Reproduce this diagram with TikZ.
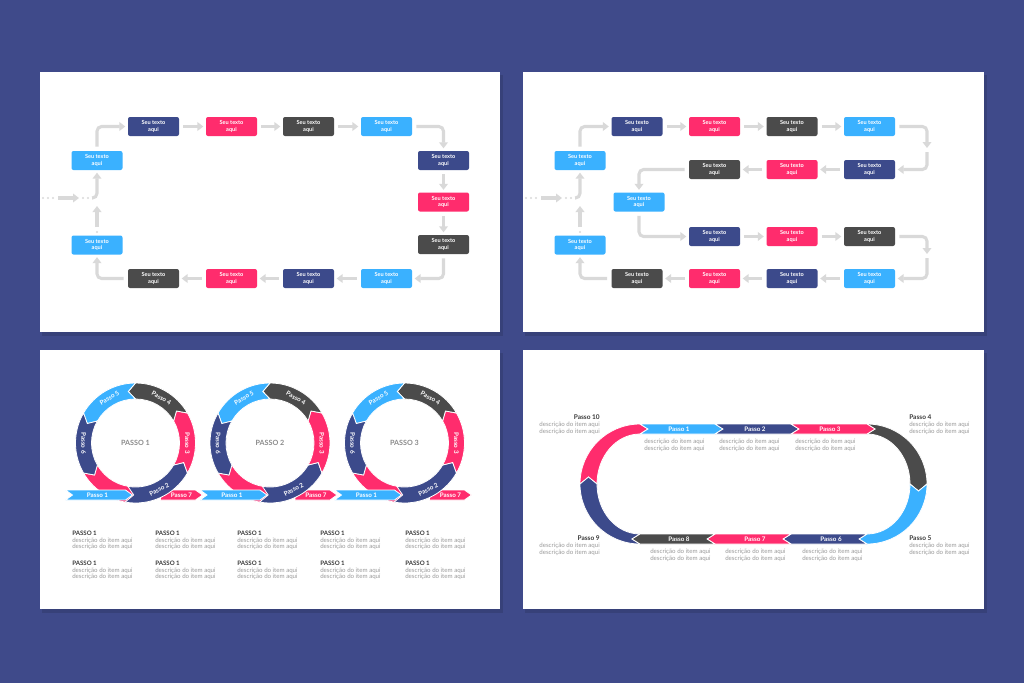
\documentclass[tikz,border=0pt]{standalone}
\usepackage{fontspec}
\setmainfont{Lato}
\usetikzlibrary{arrows.meta,calc}
\definecolor{bg}{HTML}{3F4A8A}
\definecolor{navy}{HTML}{3C4A8B}
\definecolor{pink}{HTML}{FF2C6D}
\definecolor{dgray}{HTML}{4B4B4B}
\definecolor{lblue}{HTML}{3AB1FF}
\definecolor{agray}{HTML}{D9D9D9}
\definecolor{tgray}{HTML}{9A9A9A}
\definecolor{hgray}{HTML}{3A3A3A}
\definecolor{cgray}{HTML}{8A8A8A}
\newcommand\boxfont{\fontsize{4.2}{5}\selectfont\bfseries}
\newcommand\descfont{\fontsize{4.6}{4.9}\selectfont}
\newcommand\lblfont{\fontsize{4.7}{5}\selectfont\bfseries}
\tikzset{
  box/.style={rounded corners=1.5pt, minimum width=38.25pt, minimum height=14.25pt, inner sep=0pt, text=white, font=\boxfont, align=center},
  conn/.style={draw=agray, line width=2.3pt, rounded corners=3.5pt, -{Triangle[length=4.5pt,width=6.5pt]}, shorten >=1.8pt, shorten <=3pt},
  seg/.style={draw=white, line width=0.6pt},
  ringlbl/.style={font=\lblfont, text=white, inner sep=0pt},
  centerlbl/.style={font=\fontsize{5.4}{6}\selectfont\bfseries, text=cgray, inner sep=0pt},
  descblk/.style={font=\descfont, text=tgray, align=left, inner sep=0pt, anchor=north west},
  sideblk/.style={font=\fontsize{4.6}{5.3}\selectfont, text=tgray, inner sep=0pt},
  slide/.style={fill=white},
  shadow/.style={fill=black, opacity=0.12}
}
\newcommand\bx[4]{\node[box,fill=#2] (#1) at (#3,#4) {Seu texto\\aqui};}
\newcommand\ringseg[3]{\fill[#1,seg] (#2:60) arc[start angle=#2,end angle=#3,radius=60] -- ({#3+8}:52) -- (#3:44) arc[start angle=#3,end angle=#2,radius=44] -- ({#2+8}:52) -- cycle;}
\newcommand\ringunit[3]{%
  \begin{scope}[shift={(#1,443)},yscale=-1]
    \ringseg{pink}{210}{270}
  \end{scope}
  \fill[pink,seg] ({#1+25},490) -- ({#1+60},490) -- ({#1+67},495) -- ({#1+60},500) -- ({#1+25},500) -- cycle;
  \fill[lblue,seg] ({#1-70},490) -- ({#1-10},490) -- ({#1-3},495) -- ({#1-10},500) -- ({#1-70},500) -- ({#1-63},495) -- cycle;
  \begin{scope}[shift={(#1,443)},yscale=-1]
    \ringseg{navy}{-100}{-30}
    \ringseg{pink}{-30}{30}
    \ringseg{dgray}{30}{90}
    \ringseg{lblue}{90}{150}
    \ringseg{navy}{150}{210}
    \node[ringlbl,rotate=28] (r#2p2) at (-63:52) {Passo 2};
    \node[ringlbl,rotate=-90] (r#2p3) at (0:52) {Passo 3};
    \node[ringlbl,rotate=-30] (r#2p4) at (60:52) {Passo 4};
    \node[ringlbl,rotate=30] (r#2p5) at (120:52) {Passo 5};
    \node[ringlbl,rotate=-90] (r#2p6) at (180:52) {Passo 6};
    \node[centerlbl] (r#2c) at (0,0) {PASSO #3};
  \end{scope}
  \node[ringlbl] (r#2p1) at ({#1-38},495) {Passo 1};
  \node[ringlbl] (r#2p7) at ({#1+46},495) {Passo 7};
}
\newcommand\dblk[3]{\node[descblk] (#1) at (#2,#3) {{\color{hgray}\bfseries PASSO 1}\\descrição do item aqui\\descrição do item aqui};}
\begin{document}
\begin{tikzpicture}[x=0.75pt,y=-0.75pt]
\useasboundingbox (0,0) rectangle (1024,683);
\fill[bg] (0,0) rectangle (1024,683);
% slides
\fill[shadow] (42,75) rectangle (503,336);
\fill[shadow] (525,75) rectangle (987,336);
\fill[shadow] (42,353) rectangle (503,613);
\fill[shadow] (525,353) rectangle (987,613);
\fill[slide] (40,72) rectangle (500,332);
\fill[slide] (523,72) rectangle (984,332);
\fill[slide] (40,350) rectangle (500,609);
\fill[slide] (523,350) rectangle (984,609);

% ---------------- slide 1 ----------------
\bx{aL1}{lblue}{97}{160.5}
\bx{aT1}{navy}{153.5}{126.5}
\bx{aT2}{pink}{231.5}{126.5}
\bx{aT3}{dgray}{308.5}{126.5}
\bx{aT4}{lblue}{386.5}{126.5}
\bx{aR1}{navy}{443.5}{160.5}
\bx{aR2}{pink}{443.5}{202}
\bx{aR3}{dgray}{443.5}{244.5}
\bx{aB1}{lblue}{386.5}{278.5}
\bx{aB2}{navy}{308.5}{278.5}
\bx{aB3}{pink}{231.5}{278.5}
\bx{aB4}{dgray}{153.5}{278.5}
\bx{aL2}{lblue}{97}{245}
\draw[conn] (aL1.north) |- (aT1.west);
\draw[conn] (aT1) -- (aT2);
\draw[conn] (aT2) -- (aT3);
\draw[conn] (aT3) -- (aT4);
\draw[conn] (aT4.east) -| (aR1.north);
\draw[conn] (aR1) -- (aR2);
\draw[conn] (aR2) -- (aR3);
\draw[conn] (aR3.south) |- (aB1.east);
\draw[conn] (aB1) -- (aB2);
\draw[conn] (aB2) -- (aB3);
\draw[conn] (aB3) -- (aB4);
\draw[conn] (aB4.west) -| (aL2.south);
\coordinate (aU1) at (97,227);
\coordinate (aU2) at (97,206);
\draw[conn,shorten <=0pt,shorten >=0pt] (aU1) -- (aU2);
\fill[agray] (97,232) circle[radius=1.2];
\foreach \xx in {43,48,53,83,88} \fill[agray] (\xx,198) circle[radius=1.2];
\coordinate (aI1) at (58,198);
\coordinate (aI2) at (79,198);
\draw[conn,shorten <=0pt,shorten >=0pt] (aI1) -- (aI2);
\coordinate (aI3) at (92,198);
\draw[conn,shorten <=0pt] (aI3) -| (aL1.south);

% ---------------- slide 2 ----------------
\bx{bL1}{lblue}{580}{160.5}
\bx{bT1}{navy}{637}{126.5}
\bx{bT2}{pink}{714.5}{126.5}
\bx{bT3}{dgray}{792}{126.5}
\bx{bT4}{lblue}{869.5}{126.5}
\bx{bS1}{navy}{869.5}{169.5}
\bx{bS2}{pink}{792}{169.5}
\bx{bS3}{dgray}{714.5}{169.5}
\bx{bM}{lblue}{639}{202}
\bx{bU1}{navy}{714.5}{236.5}
\bx{bU2}{pink}{792}{236.5}
\bx{bU3}{dgray}{869.5}{236.5}
\bx{bB1}{lblue}{869.5}{278.5}
\bx{bB2}{navy}{792}{278.5}
\bx{bB3}{pink}{714.5}{278.5}
\bx{bB4}{dgray}{637}{278.5}
\bx{bL2}{lblue}{580}{245}
\draw[conn] (bL1.north) |- (bT1.west);
\draw[conn] (bT1) -- (bT2);
\draw[conn] (bT2) -- (bT3);
\draw[conn] (bT3) -- (bT4);
\coordinate (bK1) at (927,148);
\coordinate (bK2) at (927,152);
\draw[conn,shorten >=0pt] (bT4.east) -| (bK1);
\draw[conn,shorten <=0pt] (bK2) |- (bS1.east);
\draw[conn] (bS1) -- (bS2);
\draw[conn] (bS2) -- (bS3);
\draw[conn] (bS3.west) -| (bM.north);
\draw[conn] (bM.south) |- (bU1.west);
\draw[conn] (bU1) -- (bU2);
\draw[conn] (bU2) -- (bU3);
\coordinate (bK3) at (927,254);
\coordinate (bK4) at (927,258);
\draw[conn,shorten >=0pt] (bU3.east) -| (bK3);
\draw[conn,shorten <=0pt] (bK4) |- (bB1.east);
\draw[conn] (bB1) -- (bB2);
\draw[conn] (bB2) -- (bB3);
\draw[conn] (bB3) -- (bB4);
\draw[conn] (bB4.west) -| (bL2.south);
\coordinate (bU1c) at (580,227);
\coordinate (bU2c) at (580,206);
\draw[conn,shorten <=0pt,shorten >=0pt] (bU1c) -- (bU2c);
\fill[agray] (580,232) circle[radius=1.2];
\foreach \xx in {526,531,536,566,571} \fill[agray] (\xx,198) circle[radius=1.2];
\coordinate (bI1) at (541,198);
\coordinate (bI2) at (562,198);
\draw[conn,shorten <=0pt,shorten >=0pt] (bI1) -- (bI2);
\coordinate (bI3) at (575,198);
\draw[conn,shorten <=0pt] (bI3) -| (bL1.south);

% ---------------- slide 3 ----------------
\ringunit{135.5}{a}{1}
\ringunit{270}{b}{2}
\ringunit{404.5}{c}{3}
\dblk{d11}{72}{531}
\dblk{d12}{155}{531}
\dblk{d13}{237}{531}
\dblk{d14}{320}{531}
\dblk{d15}{405}{531}
\dblk{d21}{72}{561}
\dblk{d22}{155}{561}
\dblk{d23}{237}{561}
\dblk{d24}{320}{561}
\dblk{d25}{405}{561}

% ---------------- slide 4 ----------------
\begin{scope}[shift={(640,484)},yscale=-1]
  \fill[pink,seg] (0,60) arc[start angle=90,end angle=180,radius=60] -- (-51.5,7) -- (-43,0) arc[start angle=180,end angle=90,x radius=43,y radius=50] -- (8,55) -- cycle;
  \fill[navy,seg] (0,-60) arc[start angle=270,end angle=180,radius=60] -- (-51.5,7) -- (-43,0) arc[start angle=180,end angle=270,x radius=43,y radius=50] -- (-8,-55) -- cycle;
\end{scope}
\begin{scope}[shift={(867,484)},yscale=-1]
  \fill[dgray,seg] (0,60) arc[start angle=90,end angle=0,radius=60] -- (51.5,-7) -- (43,0) arc[start angle=0,end angle=90,x radius=43,y radius=50] -- (8,55) -- cycle;
  \fill[lblue,seg] (60,0) arc[start angle=0,end angle=-90,radius=60] -- (-8,-55) -- (0,-50) arc[start angle=-90,end angle=0,x radius=43,y radius=50] -- (51.5,-7) -- cycle;
\end{scope}
\fill[lblue,seg] (640,424) -- (715,424) -- (723,429) -- (715,434) -- (640,434) -- (648,429) -- cycle;
\fill[navy,seg] (715,424) -- (791,424) -- (799,429) -- (791,434) -- (715,434) -- (723,429) -- cycle;
\fill[pink,seg] (791,424) -- (867,424) -- (875,429) -- (867,434) -- (791,434) -- (799,429) -- cycle;
\fill[navy,seg] (867,534) -- (791,534) -- (783,539) -- (791,544) -- (867,544) -- (859,539) -- cycle;
\fill[pink,seg] (791,534) -- (715,534) -- (707,539) -- (715,544) -- (791,544) -- (783,539) -- cycle;
\fill[dgray,seg] (715,534) -- (640,534) -- (632,539) -- (640,544) -- (715,544) -- (707,539) -- cycle;
\node[ringlbl] (s1) at (679,429) {Passo 1};
\node[ringlbl] (s2) at (755,429) {Passo 2};
\node[ringlbl] (s3) at (830,429) {Passo 3};
\node[ringlbl] (s6) at (831,539) {Passo 6};
\node[ringlbl] (s7) at (755,539) {Passo 7};
\node[ringlbl] (s8) at (679,539) {Passo 8};
\node[descblk] (e1) at (644,439) {descrição do item aqui\\descrição do item aqui};
\node[descblk] (e2) at (719,439) {descrição do item aqui\\descrição do item aqui};
\node[descblk] (e3) at (795,439) {descrição do item aqui\\descrição do item aqui};
\node[descblk] (e6) at (802,549) {descrição do item aqui\\descrição do item aqui};
\node[descblk] (e7) at (725,549) {descrição do item aqui\\descrição do item aqui};
\node[descblk] (e8) at (650,549) {descrição do item aqui\\descrição do item aqui};
\node[sideblk,anchor=north east,align=right] (f10) at (600,414) {{\color{hgray}\fontsize{4.9}{5.3}\selectfont\bfseries Passo 10}\\descrição do item aqui\\descrição do item aqui};
\node[sideblk,anchor=north east,align=right] (f9) at (600,535) {{\color{hgray}\fontsize{4.9}{5.3}\selectfont\bfseries Passo 9}\\descrição do item aqui\\descrição do item aqui};
\node[sideblk,anchor=north west,align=left] (f4) at (909,414) {{\color{hgray}\fontsize{4.9}{5.3}\selectfont\bfseries Passo 4}\\descrição do item aqui\\descrição do item aqui};
\node[sideblk,anchor=north west,align=left] (f5) at (909,535) {{\color{hgray}\fontsize{4.9}{5.3}\selectfont\bfseries Passo 5}\\descrição do item aqui\\descrição do item aqui};
\end{tikzpicture}
\end{document}
